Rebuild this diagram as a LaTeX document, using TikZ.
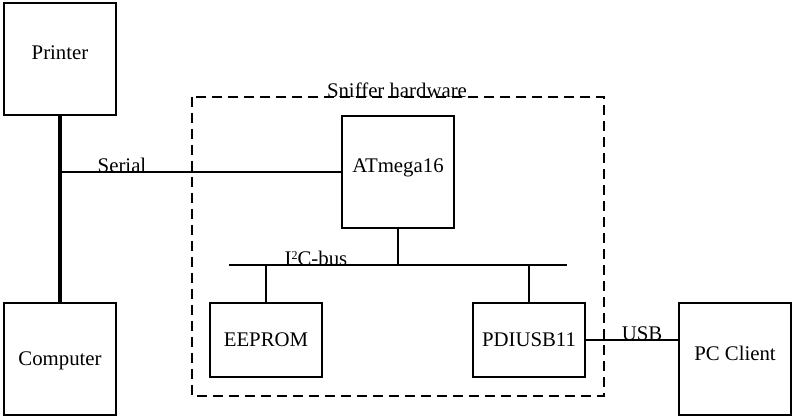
\documentclass[tikz,border=0pt]{standalone}
\usepackage{fontspec}
\setmainfont{Liberation Serif}
\usepackage{tikz}
\usetikzlibrary{positioning}
\tikzset{unit/.style={draw,line width=1.3pt,rectangle,minimum width=112pt,minimum height=112pt,inner sep=0pt,text depth=-3pt},
  flat/.style={unit,minimum height=74pt},
  raised/.style={text depth=12pt},
  lbl/.style={anchor=base,inner sep=0pt}}

\begin{document}
\begin{tikzpicture}[line cap=butt,line join=miter,x=1pt,y=-1pt,font=\fontsize{20.8}{24}\selectfont]
\useasboundingbox (0,0) rectangle (796,419);
\node[unit,raised] (printer) at (60,59) {Printer};
\node[unit] (computer) at (60,359) {Computer};
\node[unit,raised] (atmega) at (398,172) {ATmega16};
\node[flat] (eeprom) at (266,340) {EEPROM};
\node[flat] (pdiusb) at (529,340) {PDIUSB11};
\node[unit,raised] (pcclient) at (735,359) {PC Client};
\draw [line width=1.3pt,dash pattern=on 10pt off 6pt] (192,97) rectangle (604,396);
\node[lbl] (sniffer) at (397,98) {Sniffer hardware};
\coordinate (busL) at (229,265);
\coordinate (busR) at (567,265);
\coordinate (serialJ) at (60,172);
\draw [line width=3.5pt] (printer.south) -- (computer.north);
\draw [line width=1.3pt] (serialJ) -- (atmega.west);
\draw [line width=1.3pt] (busL) -- (busR);
\draw [line width=1.3pt] (atmega.south) -- (atmega.south |- busL);
\draw [line width=1.3pt] (eeprom.north) -- (eeprom.north |- busL);
\draw [line width=1.3pt] (pdiusb.north) -- (pdiusb.north |- busL);
\draw [line width=1.3pt] (pdiusb.east) -- (pdiusb.east -| pcclient.west);
\node[lbl] (serial) at (122,173) {Serial};
\node[lbl] (i2c) at (316,266) {I{\fontsize{12}{12}\selectfont\raisebox{6pt}{2}}C-bus};
\node[lbl] (usb) at (642,341) {USB};
\end{tikzpicture}
\end{document}
